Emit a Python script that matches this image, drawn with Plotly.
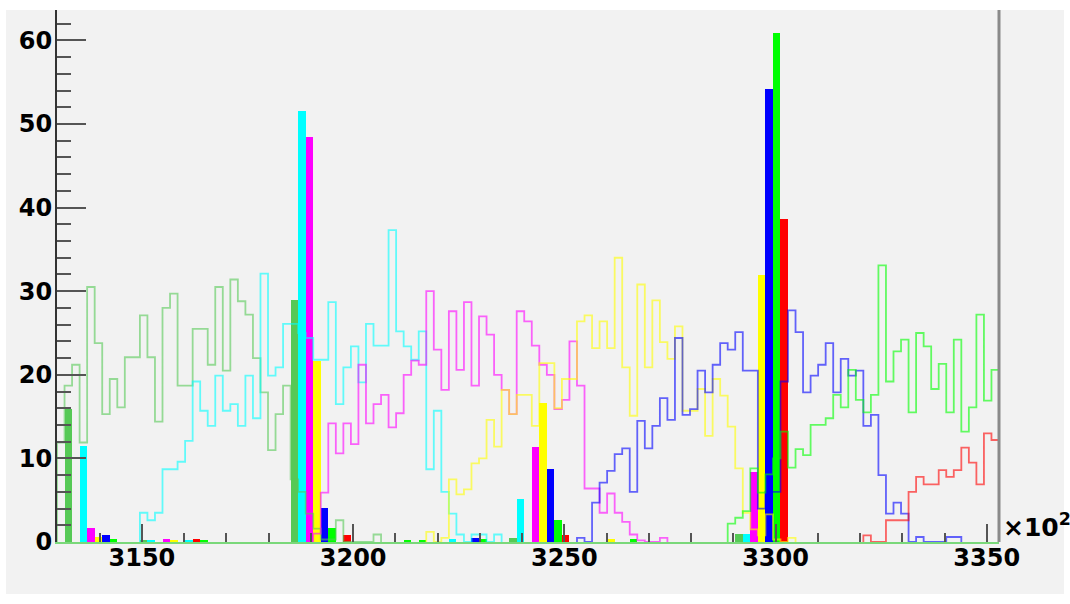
import numpy as np
import plotly.graph_objects as go

# ---------------- histogram binning (axis in units of 10^2) ----------------
X_LO, X_HI, N_BINS = 3129.9, 3352.9, 125
BW = (X_HI - X_LO) / N_BINS

# ---------------- hollow (outline) histograms: first bin + counts ----------------
g1_line_start = 0
g1_line = [11.9, 18.7, 21.2, 11.9, 30.5, 23.8, 15.3, 19.5, 16.1, 22.1, 22.1, 27.1, 22.1,
           14.4, 28.0, 29.7, 18.7, 18.7, 25.5, 25.5, 21.2, 30.5, 20.5, 31.4, 28.8, 27.2,
           22.0, 17.9, 11.0, 15.3, 18.7, 7.5, 6.0, 3.4, 1.6, 0.3, 0.3, 2.6, 0, 0, 0, 0, 0.9]

cyan_line_start = 11
cyan_line = [3.5, 2.6, 3.5, 8.7, 8.7, 9.6, 12.1, 19.2, 15.7, 13.9, 19.9, 15.7, 16.5, 13.9,
             19.9, 14.8, 32.1, 19.9, 20.9, 26.1, 26.1, 25.0, 24.4, 21.8, 21.8, 28.7, 16.5,
             20.9, 23.4, 19.1, 26.1, 23.5, 23.5, 37.3, 25.2, 23.4, 21.8, 25.2, 8.7, 15.7,
             6.0, 3.4, 0.9, 0, 0.9, 0.9, 0, 0.9]

magenta_line_start = 34
magenta_line = [1.0, 5.9, 14.2, 10.6, 14.2, 11.7, 21.2, 14.2, 16.5, 17.6, 13.7, 15.4, 20.0,
                21.7, 21.2, 30.0, 23.0, 18.2, 27.6, 20.6, 28.7, 18.7, 27.0, 24.8, 20.0, 18.2,
                15.3, 27.6, 26.4, 23.5, 21.2, 20.0, 15.9, 17.0, 24.0, 18.7, 6.4, 6.4, 3.5,
                5.8, 3.5, 2.4, 0.9, 0.2, 0, 0, 0.5]

yellow_line_start = 49
yellow_line = [1.2, 0, 0.5, 7.5, 5.7, 6.3, 9.4, 10.0, 14.6, 11.4, 18.2, 15.3, 17.6, 17.6,
               13.9, 21.4, 21.4, 16.0, 19.5, 19.5, 26.4, 27.1, 23.2, 26.4, 23.2, 34.0, 20.9,
               15.1, 30.8, 20.9, 28.9, 23.9, 21.9, 25.8, 15.7, 15.7, 18.3, 12.7, 19.5, 17.5,
               13.8, 8.8, 3.5, 1.5, 0.8, 3.3, 0.3, 0, 0.5]

blue_line_start = 69
blue_line = [0.5, 0, 4.7, 7.1, 8.5, 10.5, 11.2, 6.0, 14.5, 11.2, 13.9, 17.2, 14.6, 24.4,
             15.2, 15.9, 20.5, 17.9, 21.2, 23.8, 23.0, 25.1, 20.5, 20.5, 4.0, 6.0, 6.0,
             19.2, 27.7, 25.1, 17.9, 19.9, 21.2, 23.8, 17.9, 21.9, 19.9, 20.5, 13.9, 15.2,
             8.0, 3.4, 4.7, 3.4, 0, 0.6, 0, 0, 0, 0.6, 0.6]

green_line_start = 89
green_line = [2.2, 2.9, 3.7, 8.8, 5.9, 8.1, 10.0, 13.2, 8.9, 11.1, 10.4, 14.0, 14.0, 14.8,
              17.6, 16.1, 20.6, 17.0, 15.5, 17.6, 33.1, 19.2, 22.8, 24.2, 15.5, 25.0, 23.4,
              18.3, 21.3, 15.5, 24.2, 13.2, 16.1, 27.2, 16.9, 20.6]

red_line_start = 107
red_line = [0.8, 0, 0, 2.6, 2.6, 2.6, 6.0, 7.8, 6.9, 6.9, 8.6, 7.8, 8.6, 11.3, 9.5, 6.9,
            13.0, 12.2]

# ---------------- filled histograms: bin indices + counts ----------------
g1_fill_bins = [1, 11, 31, 60, 90]
g1_fill = [15.9, 0.2, 29.0, 0.5, 0.9]
cyan_fill_bins = [3, 12, 17, 32, 52, 61, 91]
cyan_fill = [11.5, 0.2, 0.2, 51.5, 0.4, 5.2, 0.9]
magenta_fill_bins = [4, 14, 33, 63, 92]
magenta_fill = [1.7, 0.3, 48.5, 11.4, 8.4]
yellow_fill_bins = [5, 15, 34, 64, 73, 93]
yellow_fill = [0.6, 0.2, 21.6, 16.6, 0.4, 31.9]
blue_fill_bins = [6, 35, 55, 65, 94]
blue_fill = [0.8, 4.1, 0.5, 8.7, 54.2]
green_fill_bins = [7, 19, 36, 46, 48, 56, 66, 76, 95]
green_fill = [0.4, 0.2, 1.7, 0.2, 0.2, 0.4, 2.6, 0.3, 60.9]
red_fill_bins = [18, 38, 67, 96]
red_fill = [0.3, 0.8, 0.8, 38.6]

# axis ticks
x_tickvals = [3150, 3200, 3250, 3300, 3350]
y_tickvals = [0, 10, 20, 30, 40, 50, 60]

COLORS = {
    "g1": (86, 201, 86),
    "cyan": (0, 255, 255),
    "magenta": (255, 0, 255),
    "yellow": (255, 255, 0),
    "blue": (0, 0, 255),
    "green": (0, 255, 0),
    "red": (255, 0, 0),
}

fills = [
    ("g1", g1_fill_bins, g1_fill),
    ("cyan", cyan_fill_bins, cyan_fill),
    ("magenta", magenta_fill_bins, magenta_fill),
    ("yellow", yellow_fill_bins, yellow_fill),
    ("blue", blue_fill_bins, blue_fill),
    ("green", green_fill_bins, green_fill),
    ("red", red_fill_bins, red_fill),
]
lines = [
    ("g1", g1_line_start, g1_line),
    ("cyan", cyan_line_start, cyan_line),
    ("magenta", magenta_line_start, magenta_line),
    ("yellow", yellow_line_start, yellow_line),
    ("blue", blue_line_start, blue_line),
    ("green", green_line_start, green_line),
    ("red", red_line_start, red_line),
]

fig = go.Figure()

for name, bins, vals in fills:
    r, g, b = COLORS[name]
    centers = X_LO + (np.array(bins) + 0.5) * BW
    fig.add_trace(go.Bar(x=centers, y=vals, width=BW,
                         marker=dict(color=f"rgb({r},{g},{b})", line=dict(width=0)),
                         showlegend=False, hoverinfo="skip"))

for name, start, vals in lines:
    r, g, b = COLORS[name]
    n = len(vals)
    edges = X_LO + (start + np.arange(n + 1)) * BW
    xs = [edges[0]] + list(edges[:-1]) + [edges[-1], edges[-1]]
    ys = [0] + list(vals) + [vals[-1], 0]
    fig.add_trace(go.Scatter(x=xs, y=ys, mode="lines", line_shape="hv",
                             line=dict(color=f"rgba({r},{g},{b},0.6)", width=1.8),
                             showlegend=False, hoverinfo="skip"))

# plot area in pixels
L, R, T, B = 57, 999, 10, 542
W, H = 1070, 604
pw, ph = R - L, B - T

def px_x(p):
    return (p - L) / pw

def px_y(p):
    return (B - p) / ph

tickfont = dict(family="DejaVu Sans", size=24, color="black", weight="bold")

fig.update_layout(
    width=W, height=H, autosize=False,
    margin=dict(l=L, r=W - R, t=T, b=H - B, pad=0),
    paper_bgcolor="white", plot_bgcolor="#f2f2f2",
    barmode="overlay", bargap=0,
    xaxis=dict(range=[X_LO, X_HI], tickvals=x_tickvals,
               ticktext=[str(v) for v in x_tickvals],
               ticks="inside", ticklen=18, tickwidth=2, tickcolor="#555555",
               minor=dict(dtick=10, tick0=3150, ticks="inside", ticklen=9,
                          tickwidth=2, tickcolor="#555555", showgrid=False),
               showline=True, linecolor="#7ad87a", linewidth=2,
               showgrid=False, zeroline=False, tickfont=tickfont,
               ticklabelstandoff=-7),
    yaxis=dict(range=[0, (B - T) / 8.36], tickvals=y_tickvals,
               ticks="inside", ticklen=29, tickwidth=2, tickcolor="#555555",
               minor=dict(dtick=2, tick0=0, ticks="inside", ticklen=14,
                          tickwidth=2, tickcolor="#555555", showgrid=False),
               showline=True, linecolor="#333333", linewidth=2,
               showgrid=False, zeroline=False, tickfont=tickfont,
               ticklabelstandoff=-2),
    shapes=[
        dict(type="rect", xref="paper", yref="paper",
             x0=px_x(6), x1=px_x(1064), y0=px_y(594), y1=px_y(10),
             fillcolor="#f2f2f2", line=dict(width=0), layer="below"),
        dict(type="line", xref="paper", yref="paper",
             x0=1, x1=1, y0=0, y1=1, line=dict(color="#8a8a8a", width=3)),
    ],
    annotations=[
        dict(text="×10<sup>2</sup>", xref="paper", yref="paper",
             x=px_x(1001), y=px_y(544), xanchor="left", yanchor="bottom",
             showarrow=False, font=dict(family="DejaVu Sans", size=25,
                                        color="black", weight="bold")),
    ],
)

fig.write_html("out.html",
               config={"displayModeBar": False},
               post_script="document.body.style.margin='0';"
                           "document.body.style.overflow='hidden';")
